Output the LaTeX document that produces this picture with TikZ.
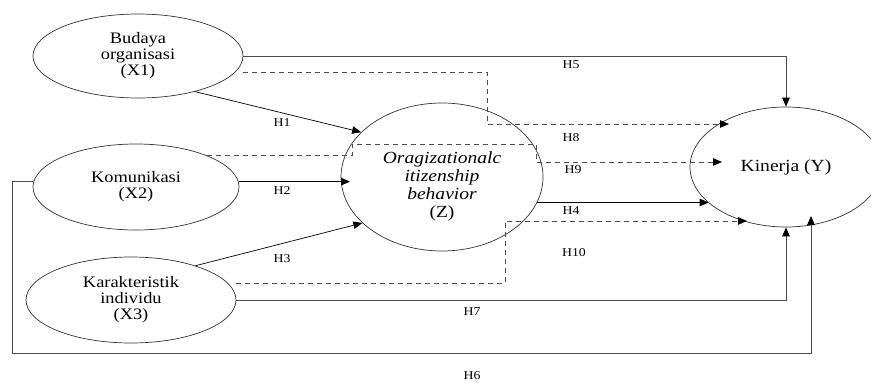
\documentclass[tikz,border=0pt]{standalone}
\usepackage{fontspec}
\setmainfont{Liberation Serif}[FakeStretch=1.15]
\usetikzlibrary{shapes.geometric,arrows.meta}
\tikzset{
  var/.style={ellipse,draw=black!80,line width=0.7pt,inner sep=0pt,align=center,font=\fontsize{16}{16}\selectfont},
  hyp/.style={font=\fontsize{12}{12}\selectfont,inner sep=0pt},
  link/.style={line width=0.7pt,-{Triangle[length=9pt,width=7.5pt,color=black]}},
  direct/.style={link,draw=black!70,line width=1pt},
  mediated/.style={link,draw=black!70,line width=0.8pt,dash pattern=on 5pt off 4pt},
}
\begin{document}
\begin{tikzpicture}[x=1pt,y=-1pt]
\useasboundingbox (0,0) rectangle (871,383);
% variables
\node[var,minimum width=210pt,minimum height=84pt] (x1) at (138,56) {Budaya\\organisasi\\(X1)};
\node[var,minimum width=206pt,minimum height=86pt] (x2) at (136,187) {Komunikasi\\(X2)};
\node[var,minimum width=210pt,minimum height=86pt] (x3) at (131,300) {Karakteristik\\individu\\(X3)};
\node[var,minimum width=202pt,minimum height=148pt,
  label={[name=ztext,yshift=-9pt,align=center,font=\fontsize{17}{18}\selectfont\itshape]center:{Oragizationalc\\itizenship\\behavior\\{\upshape(Z)}}}] (z) at (442,177) {};
\node[var,minimum width=192pt,minimum height=120pt,font=\fontsize{17}{17}\selectfont] (y) at (786,167) {Kinerja (Y)};
% bends
\coordinate (h2end) at (350,182);
\coordinate (h6l) at (12,353);
\coordinate (h6r) at (811,353);
\coordinate (h6end) at (811,216);
\coordinate (h8a) at (487,124);
\coordinate (h8end) at (729,124);
\coordinate (h9a) at (352,144);
\coordinate (h9b) at (536,162);
\coordinate (h9end) at (722,162);
\coordinate (h10a) at (505,221);
\coordinate (h10end) at (747,221);
% paths
\draw[link] (x1.-32) -- (z.151);
\draw[link] (x2.3) -- (x2.3 -| h2end);
\draw[link] (x3.28) -- (z.210);
\draw[link] (z.-15) -- (z.-15 -| y.205);
\draw[direct] (x1.east) -| (y.north);
\draw[direct] (x3.east) -| (y.south);
\draw[direct] (x2.177) -| (h6l) -- (h6r) -- (h6end);
\draw[mediated] ([yshift=-16pt]x1.east) -| (h8a) -- (h8end);
\draw[mediated] (x2.24) -| (h9a) -| (h9b) -- (h9end);
\draw[mediated] ([yshift=17pt]x3.east) -| (h10a) -- (h10end);
% labels
\node[hyp] (l1) at (282,123) {H1};
\node[hyp] (l2) at (282,191) {H2};
\node[hyp] (l3) at (282,259) {H3};
\node[hyp] (l4) at (571,211) {H4};
\node[hyp] (l5) at (571,65) {H5};
\node[hyp] (l6) at (472,376) {H6};
\node[hyp] (l7) at (472,312) {H7};
\node[hyp] (l8) at (571,138) {H8};
\node[hyp] (l9) at (573,170) {H9};
\node[hyp] (l10) at (574,253) {H10};
\end{tikzpicture}
\end{document}
